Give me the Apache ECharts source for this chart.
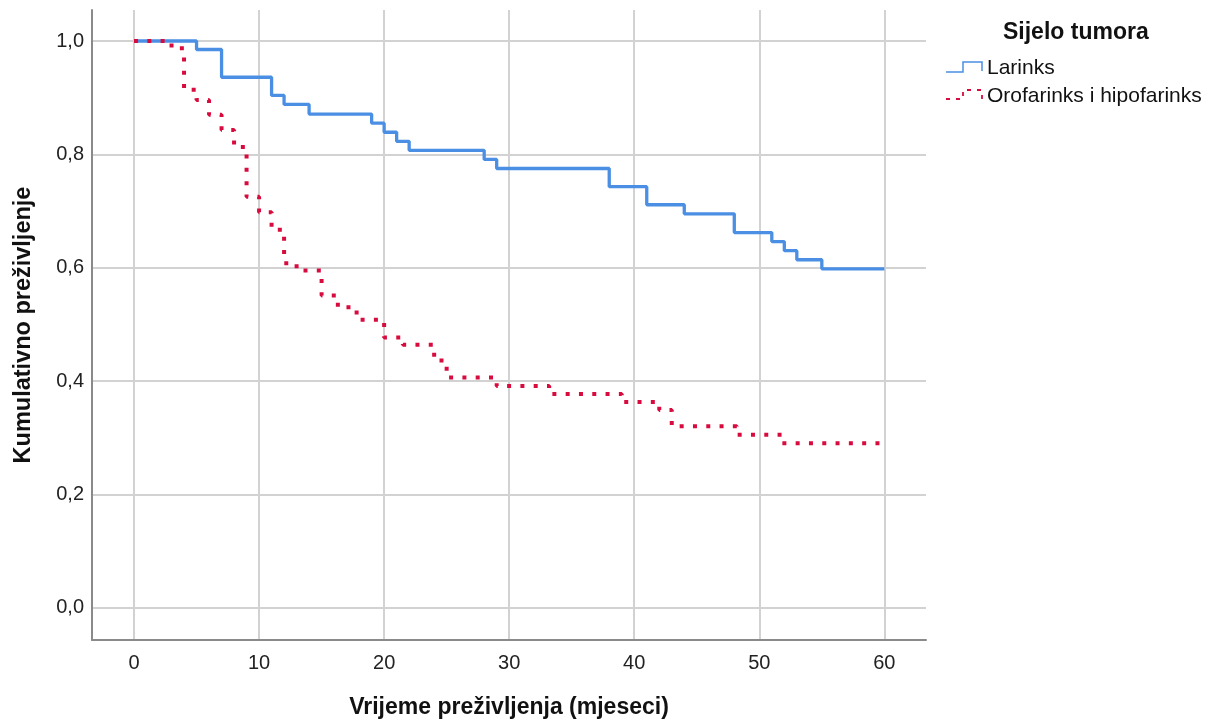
<!DOCTYPE html>
<html>
<head>
<meta charset="utf-8">
<script src="https://cdn.jsdelivr.net/npm/echarts@6/dist/echarts.min.js"></script>
<style>
  html, body { margin: 0; padding: 0; background: #ffffff; }
  #chart { width: 1219px; height: 726px; }
</style>
</head>
<body>
<div id="chart"></div>
<script>
// Data (Kaplan–Meier step curves)
const larinksTime = [0, 5, 7, 11, 12, 14, 19, 20, 21, 22, 28, 29, 38, 41, 44, 48, 51, 52, 53, 55, 60];
const larinksSurv = [1.0, 0.985, 0.936, 0.904, 0.888, 0.871, 0.855, 0.839, 0.823, 0.807, 0.791, 0.775, 0.743, 0.711, 0.695, 0.662, 0.646, 0.630, 0.614, 0.598, 0.598];

const oroTime = [0, 3, 4, 5, 6, 7, 8, 9, 10, 11, 12, 13, 15, 16.3, 17.8, 20, 21.5, 24, 25, 29, 33.2, 39, 42, 43, 48.2, 51.8, 60];
const oroSurv = [1.0, 0.987, 0.914, 0.896, 0.870, 0.843, 0.813, 0.725, 0.698, 0.667, 0.608, 0.595, 0.551, 0.530, 0.508, 0.477, 0.464, 0.436, 0.406, 0.391, 0.377, 0.363, 0.349, 0.320, 0.305, 0.290, 0.290];

const xTicks = [0, 10, 20, 30, 40, 50, 60];
const yTicks = [0, 0.2, 0.4, 0.6, 0.8, 1.0];

const seriesNames = ['Larinks', 'Orofarinks i hipofarinks'];
const legendTitle = 'Sijelo tumora';
const xTitle = 'Vrijeme preživljenja (mjeseci)';
const yTitle = 'Kumulativno preživljenje';

const BLUE = '#4a8fe3';
const RED = '#d80b3e';
const FONT = 'Liberation Sans, Arial, sans-serif';

const zip = (a, b) => a.map((v, i) => [v, b[i]]);

const chart = echarts.init(document.getElementById('chart'), null, { renderer: 'canvas' });

chart.setOption({
  backgroundColor: '#ffffff',
  animation: false,
  textStyle: { fontFamily: FONT },
  grid: { left: 92, right: 293, top: 10, bottom: 86, containLabel: false },
  xAxis: {
    type: 'value',
    min: -3.36,
    max: 63.33,
    name: xTitle,
    nameLocation: 'middle',
    nameGap: 56,
    nameTextStyle: { fontFamily: FONT, fontSize: 23, fontWeight: 'bold', color: '#111' },
    axisLine: { show: true, onZero: false, lineStyle: { color: '#8a8a8a', width: 2 } },
    axisTick: { show: false, customValues: xTicks },
    axisLabel: { customValues: xTicks, fontFamily: FONT, fontSize: 20, color: '#222', margin: 13 },
    splitLine: { show: true, lineStyle: { color: '#d2d2d2', width: 2 } }
  },
  yAxis: {
    type: 'value',
    min: -0.057,
    max: 1.0547,
    name: yTitle,
    nameLocation: 'middle',
    nameRotate: 90,
    nameGap: 56,
    nameTextStyle: { fontFamily: FONT, fontSize: 23.5, fontWeight: 'bold', color: '#111' },
    axisLine: { show: true, onZero: false, lineStyle: { color: '#8a8a8a', width: 2 } },
    axisTick: { show: false, customValues: yTicks },
    axisLabel: {
      customValues: yTicks,
      fontFamily: FONT, fontSize: 20, color: '#222', margin: 8,
      formatter: v => v.toFixed(1).replace('.', ',')
    },
    splitLine: { show: true, lineStyle: { color: '#d2d2d2', width: 2 } }
  },
  series: [
    {
      name: seriesNames[0],
      type: 'line',
      step: 'end',
      data: zip(larinksTime, larinksSurv),
      showSymbol: false,
      lineStyle: { color: BLUE, width: 3.3 },
      z: 3
    },
    {
      name: seriesNames[1],
      type: 'line',
      step: 'end',
      data: zip(oroTime, oroSurv),
      showSymbol: false,
      lineStyle: { color: RED, width: 4, type: [4, 9.3], cap: 'butt' },
      z: 4
    }
  ],
  graphic: [
    {
      type: 'text', left: 1003, top: 21,
      style: { text: legendTitle, font: 'bold 23px ' + FONT, fill: '#111' }
    },
    {
      type: 'polyline',
      shape: { points: [[946, 72], [963, 72], [963, 62], [982, 62], [982, 71]] },
      style: { stroke: BLUE, lineWidth: 1.5, fill: null }
    },
    {
      type: 'text', left: 987, top: 58,
      style: { text: seriesNames[0], font: '21px ' + FONT, fill: '#111' }
    },
    {
      type: 'polyline',
      shape: { points: [[946, 99], [963, 99], [963, 90], [982, 90], [982, 99]] },
      style: { stroke: RED, lineWidth: 1.8, fill: null, lineDash: [4, 6] }
    },
    {
      type: 'text', left: 987, top: 86,
      style: { text: seriesNames[1], font: '21px ' + FONT, fill: '#111' }
    }
  ]
});
</script>
</body>
</html>
